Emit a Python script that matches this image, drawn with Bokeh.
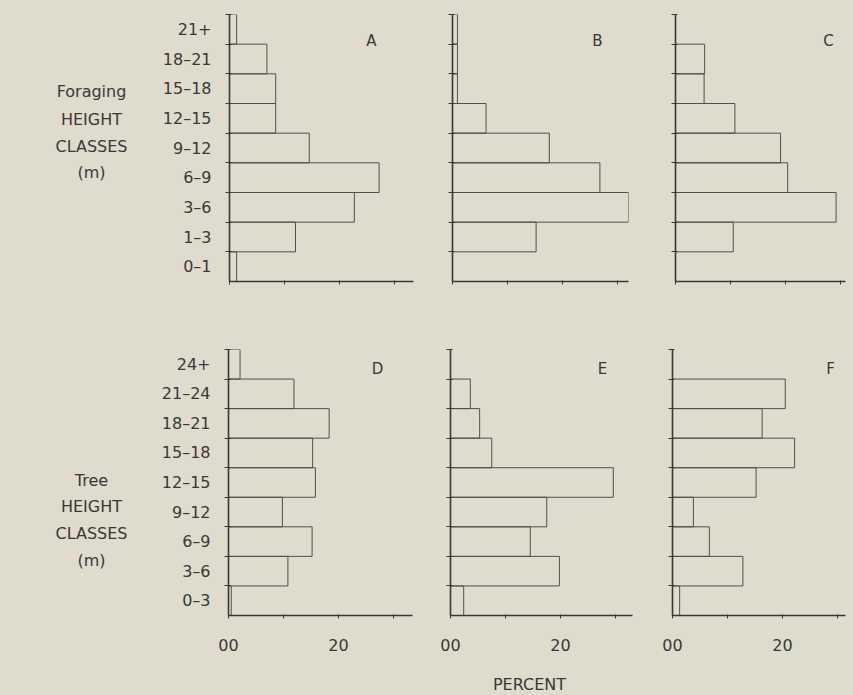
import numpy as np
from bokeh.plotting import figure
from bokeh.layouts import column, row
from bokeh.models import Range1d, FixedTicker, Label, ColumnDataSource
from bokeh.core.properties import value
from bokeh.embed import file_html
from bokeh.resources import INLINE

BG = "#dfdbcd"
INK = "#383838"
BAR_LINE = "#505050"
FONT = "DejaVu Sans"

# ---- data (percent of observations per height class) ----
foraging_classes = ["0–1", "1–3", "3–6", "6–9", "9–12", "12–15", "15–18", "18–21", "21+"]
tree_classes = ["0–3", "3–6", "6–9", "9–12", "12–15", "15–18", "18–21", "21–24", "24+"]

panel_A = [1.3, 12.0, 22.7, 27.2, 14.5, 8.4, 8.4, 6.8, 1.3]
panel_B = [0.0, 15.2, 32.2, 26.8, 17.6, 6.1, 0.9, 0.9, 0.9]
panel_C = [0.0, 10.5, 29.2, 20.4, 19.1, 10.8, 5.2, 5.3, 0.0]
panel_D = [0.5, 10.8, 15.2, 9.8, 15.8, 15.3, 18.3, 11.9, 2.1]
panel_E = [2.4, 19.8, 14.5, 17.5, 29.6, 7.5, 5.3, 3.6, 0.0]
panel_F = [1.3, 12.8, 6.7, 3.8, 15.2, 22.2, 16.3, 20.5, 0.0]

panel_letters = ["A", "B", "C", "D", "E", "F"]
x_tick_values = [0, 10, 20, 30]
x_tick_labels = ["00", "", "20", ""]
row_titles_top = ["Foraging", "HEIGHT", "CLASSES", "(m)"]
row_titles_bottom = ["Tree", "HEIGHT", "CLASSES", "(m)"]
x_title = "PERCENT"

SCALE = 5.5  # px per percent


def make_panel(values, classes, letter, letter_xy, frame_w, frame_h,
               b_left, b_right, b_top, b_bottom, show_y_labels, show_x_labels):
    n = len(classes)
    x_max = frame_w / SCALE
    p = figure(frame_width=frame_w, frame_height=frame_h,
               min_border_left=b_left, min_border_right=b_right,
               min_border_top=b_top, min_border_bottom=b_bottom,
               x_range=Range1d(0, x_max), y_range=Range1d(0, n),
               output_backend="svg", toolbar_location=None,
               background_fill_color=BG, border_fill_color=BG,
               outline_line_color=None)
    p.grid.visible = False

    src = ColumnDataSource(dict(y=np.arange(n) + 0.5, right=values))
    p.hbar(y="y", left=0, right="right", height=1, source=src,
           fill_color=None, line_color=BAR_LINE, line_width=1)

    # y axis: labels at class centres, tick marks at class boundaries
    yax = p.yaxis[0]
    centers = [i + 0.5 for i in range(n)]
    yax.ticker = FixedTicker(ticks=centers, minor_ticks=list(range(1, n + 1)))
    if show_y_labels:
        yax.major_label_overrides = {c: lab for c, lab in zip(centers, classes)}
        yax.major_label_standoff = 14
    else:
        yax.major_label_overrides = {c: "" for c in centers}
        yax.major_label_standoff = 0
    yax.major_tick_in = 0
    yax.major_tick_out = 0
    yax.minor_tick_in = 2
    yax.minor_tick_out = 4
    yax.minor_tick_line_color = INK
    yax.minor_tick_line_width = 1.2
    yax.axis_line_color = INK
    yax.axis_line_width = 1.6
    yax.major_label_text_font = FONT
    yax.major_label_text_font_size = "16px"
    yax.major_label_text_color = INK

    xax = p.xaxis[0]
    xax.ticker = FixedTicker(ticks=x_tick_values)
    if show_x_labels:
        xax.major_label_overrides = {v: t for v, t in zip(x_tick_values, x_tick_labels)}
        xax.major_label_standoff = 20
    else:
        xax.major_label_overrides = {v: "" for v in x_tick_values}
        xax.major_label_standoff = 0
    xax.major_tick_in = 1
    xax.major_tick_out = 3
    xax.major_tick_line_color = INK
    xax.axis_line_color = INK
    xax.axis_line_width = 1.6
    xax.major_label_text_font = FONT
    xax.major_label_text_font_size = "16px"
    xax.major_label_text_color = INK

    # panel letter near top-right (letter_xy given as px offsets inside the frame)
    unit = frame_h / n
    p.add_layout(Label(x=letter_xy[0] / SCALE, y=n - letter_xy[1] / unit, text=letter,
                       text_align="center", text_baseline="middle",
                       text_font=FONT, text_font_size="15px", text_color=INK))
    return p


def make_text_strip(width, height, texts, xs, ys):
    p = figure(frame_width=width, frame_height=height,
               min_border_left=0, min_border_right=0, min_border_top=0, min_border_bottom=0,
               x_range=Range1d(0, width), y_range=Range1d(height, 0),
               x_axis_location=None, y_axis_location=None,
               output_backend="svg", toolbar_location=None,
               background_fill_color=BG, border_fill_color=BG,
               outline_line_color=None)
    p.grid.visible = False
    p.text(x=xs, y=ys, text=texts, text_align="center", text_baseline="middle",
           text_font=value(FONT), text_font_size=value("16px"), text_color=INK)
    return p


TOP_H, BOT_H = 267, 266

pA = make_panel(panel_A, foraging_classes, panel_letters[0], (142, 26), 184, TOP_H,
                79, 4, 14, 30, True, False)
pB = make_panel(panel_B, foraging_classes, panel_letters[1], (145, 26), 176, TOP_H,
                35, 4, 14, 30, False, False)
pC = make_panel(panel_C, foraging_classes, panel_letters[2], (153, 26), 170, TOP_H,
                43, 8, 14, 30, False, False)
pD = make_panel(panel_D, tree_classes, panel_letters[3], (149, 19), 184, BOT_H,
                78, 4, 38, 45, True, True)
pE = make_panel(panel_E, tree_classes, panel_letters[4], (152, 19), 182, BOT_H,
                34, 4, 38, 45, False, True)
pF = make_panel(panel_F, tree_classes, panel_letters[5], (158, 19), 173, BOT_H,
                36, 8, 38, 45, False, True)

tTop = make_text_strip(150, 311, row_titles_top, [91, 91, 91, 91], [77, 105, 132, 158])
tBot = make_text_strip(150, 349, row_titles_bottom, [91, 91, 91, 91], [131, 157, 184, 211])
tPct = make_text_strip(853, 35, [x_title], [529], [24])

bg = {"background-color": BG}
layout = column(row(tTop, pA, pB, pC, styles=bg),
                row(tBot, pD, pE, pF, styles=bg),
                tPct, styles=bg)

open("out.html", "w").write(file_html(layout, INLINE))
